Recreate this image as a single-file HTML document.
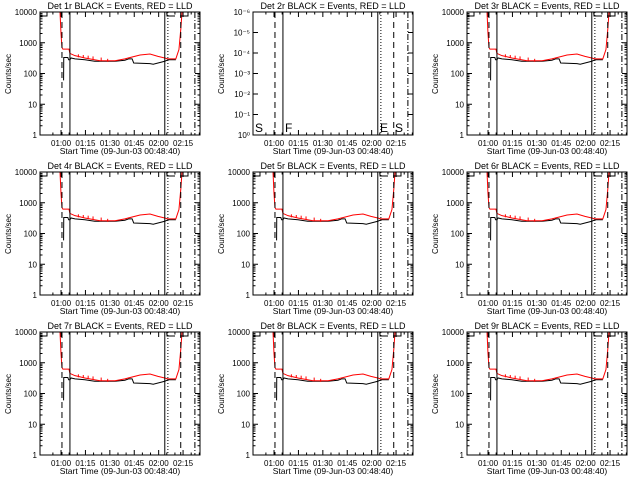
<!DOCTYPE html>
<html><head><meta charset="utf-8">
<style>
html,body{margin:0;padding:0;background:#fff;}
svg{display:block;font-family:"Liberation Sans",sans-serif;}
</style></head>
<body>
<svg id="c" width="640" height="480" viewBox="0 0 640 480"></svg>
<script>
const detNames = ["1r","2r","3r","4r","5r","6r","7r","8r","9r"];
const yTicks = [1,10,100,1000,10000];
const yTickLabels = ["1","10","100","1000","10000"];
const y2TickLabels = ["10\u2070","10\u207B\u00B9","10\u207B\u00B2","10\u207B\u00B3","10\u207B\u2074","10\u207B\u2075","10\u207B\u2076"];
const xTickMinutes = [11.33,26.33,41.33,56.33,71.33,86.33];
const xTickLabels = ["01:00","01:15","01:30","01:45","02:00","02:15"];
// minutes since 00:48:40
const redTimes = [10.1,10.7,11.3,11.9,12.5,16.2,16.8,19.9,26,35.3,44.5,50.6,59.9,66,70.9,75.1,77,81.9,83.8,85,85.7,86.3];
const redValues = [30000,10000,2000,700,620,620,450,380,320,260,260,300,400,430,360,320,300,300,600,3000,10000,30000];
const blackTimes = [12.9,13.0,13.5,15.5,16.0,16.8,17.5,19.9,26,32,44.5,50.6,53,55,56,66,68,75.1,77,81.9];
const blackValues = [60,330,330,330,280,280,320,300,280,250,250,270,300,300,220,210,200,250,280,280];
const spikeTimes = [22,25,28,31,36,40];
const spikeValues = [420,400,380,360,330,300];
const vlineTimes = [11.9,16.8,75.1,77,84.9,93.6];
const vlineStyles = ["6,4","","","1,2","6,4","6,2,1,2"];

const NS="http://www.w3.org/2000/svg";
const svg=document.getElementById('c');
function el(tag,attrs,parent){const e=document.createElementNS(NS,tag);for(const k in attrs)e.setAttribute(k,attrs[k]);(parent||svg).appendChild(e);return e;}

const PX0=40,PX1=200,PY0=12,PY1=135;
const xScale=t=>42.6+t*1.627;
const yScale=v=>PY1-(Math.log10(v))*(PY1-PY0)/4;

detNames.forEach((d,i)=>{
  const ox=Math.round((i%3)*213.33), oy=Math.floor(i/3)*160;
  const g=el('g',{transform:`translate(${ox},${oy})`});
  
  
  const t=el('text',{x:120,y:9,'font-size':'9','text-anchor':'middle'},g);
  t.textContent=`Det ${d} BLACK = Events, RED = LLD`;
  
  
  const yl=el('text',{x:0,y:0,'font-size':'8','text-anchor':'middle',transform:`translate(11,74) rotate(-90)`},g);
  yl.textContent='Counts/sec';
  
  
  const xl=el('text',{x:120,y:154,'font-size':'8.5','text-anchor':'middle'},g);
  xl.textContent='Start Time (09-Jun-03 00:48:40)';
  
  
  const clip='clip'+i;
  const cp=el('clipPath',{id:clip},g);el('rect',{x:PX0,y:PY0,width:PX1-PX0,height:PY1-PY0},cp);
  // x ticks
  xTickMinutes.forEach((m,k)=>{
    const x=xScale(m);
    el('line',{x1:x,x2:x,y1:PY1,y2:PY1-5,stroke:'#000'},g);
    el('line',{x1:x,x2:x,y1:PY0,y2:PY0+5,stroke:'#000'},g);
    const tl=el('text',{x:x,y:146,'font-size':'8','text-anchor':'middle'},g);
    tl.textContent=xTickLabels[k];
    
    
    for(let s=1;s<3;s++){const xm=xScale(m+s*5);if(xm<PX1){el('line',{x1:xm,x2:xm,y1:PY1,y2:PY1-2.5,stroke:'#000'},g);el('line',{x1:xm,x2:xm,y1:PY0,y2:PY0+2.5,stroke:'#000'},g);}}
    const xm=xScale(m-5);if(k==0){el('line',{x1:xm,x2:xm,y1:PY1,y2:PY1-2.5,stroke:'#000'},g);el('line',{x1:xm,x2:xm,y1:PY0,y2:PY0+2.5,stroke:'#000'},g);}
  });
  if(i===1){
    y2TickLabels.forEach((lab,k)=>{
      const y=PY1-k*(PY1-PY0)/6;
      el('line',{x1:PX0,x2:PX0+5,y1:y,y2:y,stroke:'#000'},g);
      el('line',{x1:PX1,x2:PX1-5,y1:y,y2:y,stroke:'#000'},g);
      const tl=el('text',{x:37,y:y+3,'font-size':'8','text-anchor':'end'},g);
      tl.textContent=lab;
      
      
    });
    [["S",42,"start-label"],["F",72,"flare-label"],["E",167,"end-label"],["S",182,"saa-label"]].forEach(a=>{
      const tl=el('text',{x:a[1],y:132,'font-size':'12'},g);tl.textContent=a[0];
      
      
    });
  } else {
    yTicks.forEach((v,k)=>{
      const y=yScale(v);
      el('line',{x1:PX0,x2:PX0+5,y1:y,y2:y,stroke:'#000'},g);
      el('line',{x1:PX1,x2:PX1-5,y1:y,y2:y,stroke:'#000'},g);
      if(k<4)for(let m=2;m<10;m++){const ym=yScale(v*m);el('line',{x1:PX0,x2:PX0+2.5,y1:ym,y2:ym,stroke:'#000'},g);el('line',{x1:PX1,x2:PX1-2.5,y1:ym,y2:ym,stroke:'#000'},g);}
      const tl=el('text',{x:37,y:y+3,'font-size':'8','text-anchor':'end'},g);
      tl.textContent=yTickLabels[k];
      
      
    });
    const cg=el('g',{'clip-path':`url(#${clip})`},g);
    const bp=el('polyline',{points:blackTimes.map((t,k)=>xScale(t)+','+yScale(blackValues[k])).join(' '),fill:'none',stroke:'#000','stroke-width':1},cg);
    
    
    const rp=el('polyline',{points:redTimes.map((t,k)=>xScale(t)+','+yScale(redValues[k])).join(' '),fill:'none',stroke:'#f00','stroke-width':1},cg);
    
    
    spikeTimes.forEach((t,k)=>{
      const s=el('line',{x1:xScale(t),x2:xScale(t),y1:yScale(spikeValues[k]*0.8),y2:yScale(spikeValues[k]),stroke:'#f00'},cg);
      
      
    });
    el('path',{d:'M40,16 H47 V12 M167,12 V16 H175 M180,16 H188 V12',fill:'none',stroke:'#000'},g);
  }
  vlineTimes.forEach((t,k)=>{
    const x=xScale(t);
    const a={x1:x,x2:x,y1:PY0,y2:PY1,stroke:'#000','stroke-width':1};
    if(vlineStyles[k])a['stroke-dasharray']=vlineStyles[k];
    const l=el('line',a,g);
    
    
  });
  const fr=el('rect',{x:PX0,y:PY0,width:PX1-PX0,height:PY1-PY0,fill:'none',stroke:'#000'},g);
  
  
});
</script>
</body></html>
